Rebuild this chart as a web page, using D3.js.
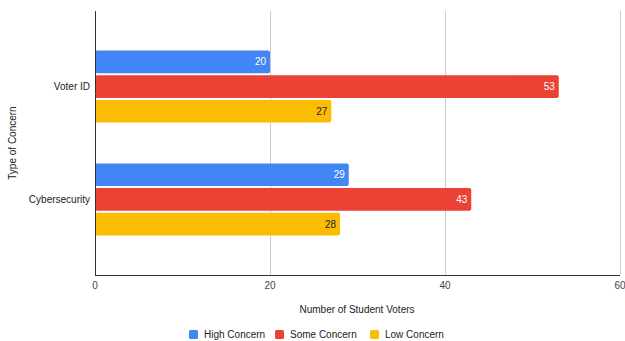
<!DOCTYPE html>
<html>
<head>
<meta charset="utf-8">
<script src="https://cdn.jsdelivr.net/npm/d3@7"></script>
<style>
  html, body { margin: 0; padding: 0; background: #fff; }
  svg { display: block; font-family: "Liberation Sans", Arial, sans-serif; }
</style>
</head>
<body>
<svg id="chart" width="625" height="341"></svg>
<script>
// Concern types and the three concern levels
const categories = ["Voter ID", "Cybersecurity"];
const seriesNames = ["High Concern", "Some Concern", "Low Concern"];
const highConcern = [20, 29];
const someConcern = [53, 43];
const lowConcern = [27, 28];
const xTicks = [0, 20, 40, 60];

const colors = ["#4285F4", "#EA4335", "#FBBC04"];
const labelColors = ["#ffffff", "#ffffff", "#222222"];
const seriesValues = [highConcern, someConcern, lowConcern];

const svg = d3.select("#chart");
const plot = { left: 95, right: 620, top: 11, bottom: 275 };
const fs = 10;

const x = d3.scaleLinear().domain([0, 60]).range([plot.left, plot.right]);
const y = d3.scalePoint().domain(categories).range([plot.top, plot.bottom]).padding(0.67);
const inner = d3.scaleBand().domain(seriesNames).range([-36, 36]).paddingInner(0.085);

// Vertical gridlines
svg.append("g")
  .selectAll("line")
  .data(xTicks.filter(t => t > 0))
  .join("line")
  .attr("x1", d => x(d)).attr("x2", d => x(d))
  .attr("y1", plot.top).attr("y2", plot.bottom)
  .attr("stroke", "#cccccc").attr("stroke-width", 1)
  .attr("shape-rendering", "crispEdges");

// Bars with value labels at their ends
categories.forEach((cat, ci) => {
  seriesNames.forEach((s, si) => {
    const v = seriesValues[si][ci];
    const y0 = y(cat) + inner(s);
    svg.append("rect")
      .attr("x", x(0))
      .attr("y", y0)
      .attr("width", x(v) - x(0))
      .attr("height", inner.bandwidth())
      .attr("rx", 2)
      .attr("fill", colors[si]);
    svg.append("text")
      .attr("x", x(v) - 4)
      .attr("y", y0 + inner.bandwidth() / 2)
      .attr("dy", "0.35em")
      .attr("text-anchor", "end")
      .attr("font-size", fs)
      .attr("fill", labelColors[si])
      .text(v);
  });
});

// Axis lines
svg.append("line")
  .attr("x1", plot.left).attr("x2", plot.left)
  .attr("y1", plot.top).attr("y2", plot.bottom)
  .attr("stroke", "#333").attr("stroke-width", 1)
  .attr("shape-rendering", "crispEdges");
svg.append("line")
  .attr("x1", plot.left).attr("x2", plot.right)
  .attr("y1", plot.bottom).attr("y2", plot.bottom)
  .attr("stroke", "#333").attr("stroke-width", 1)
  .attr("shape-rendering", "crispEdges");

// X tick labels
svg.append("g")
  .selectAll("text")
  .data(xTicks)
  .join("text")
  .attr("x", d => x(d))
  .attr("y", 289)
  .attr("text-anchor", "middle")
  .attr("font-size", fs)
  .attr("fill", "#444")
  .text(d => d);

// Category labels
svg.append("g")
  .selectAll("text")
  .data(categories)
  .join("text")
  .attr("x", plot.left - 5)
  .attr("y", d => y(d))
  .attr("dy", "0.35em")
  .attr("text-anchor", "end")
  .attr("font-size", fs)
  .attr("fill", "#222")
  .text(d => d);

// Axis titles
svg.append("text")
  .attr("x", 357).attr("y", 313)
  .attr("text-anchor", "middle")
  .attr("font-size", fs)
  .attr("fill", "#222")
  .text("Number of Student Voters");
svg.append("text")
  .attr("transform", "translate(16,143) rotate(-90)")
  .attr("text-anchor", "middle")
  .attr("font-size", fs)
  .attr("fill", "#222")
  .text("Type of Concern");

// Legend
const legendX = [189, 275, 370];
const legend = svg.append("g")
  .selectAll("g")
  .data(seriesNames)
  .join("g")
  .attr("transform", (d, i) => `translate(${legendX[i]},330)`);
legend.append("rect")
  .attr("width", 9).attr("height", 9).attr("rx", 1.5)
  .attr("fill", (d, i) => colors[i]);
legend.append("text")
  .attr("x", 15).attr("y", 4.5)
  .attr("dy", "0.35em")
  .attr("font-size", fs)
  .attr("fill", "#222")
  .text(d => d);
</script>
</body>
</html>
